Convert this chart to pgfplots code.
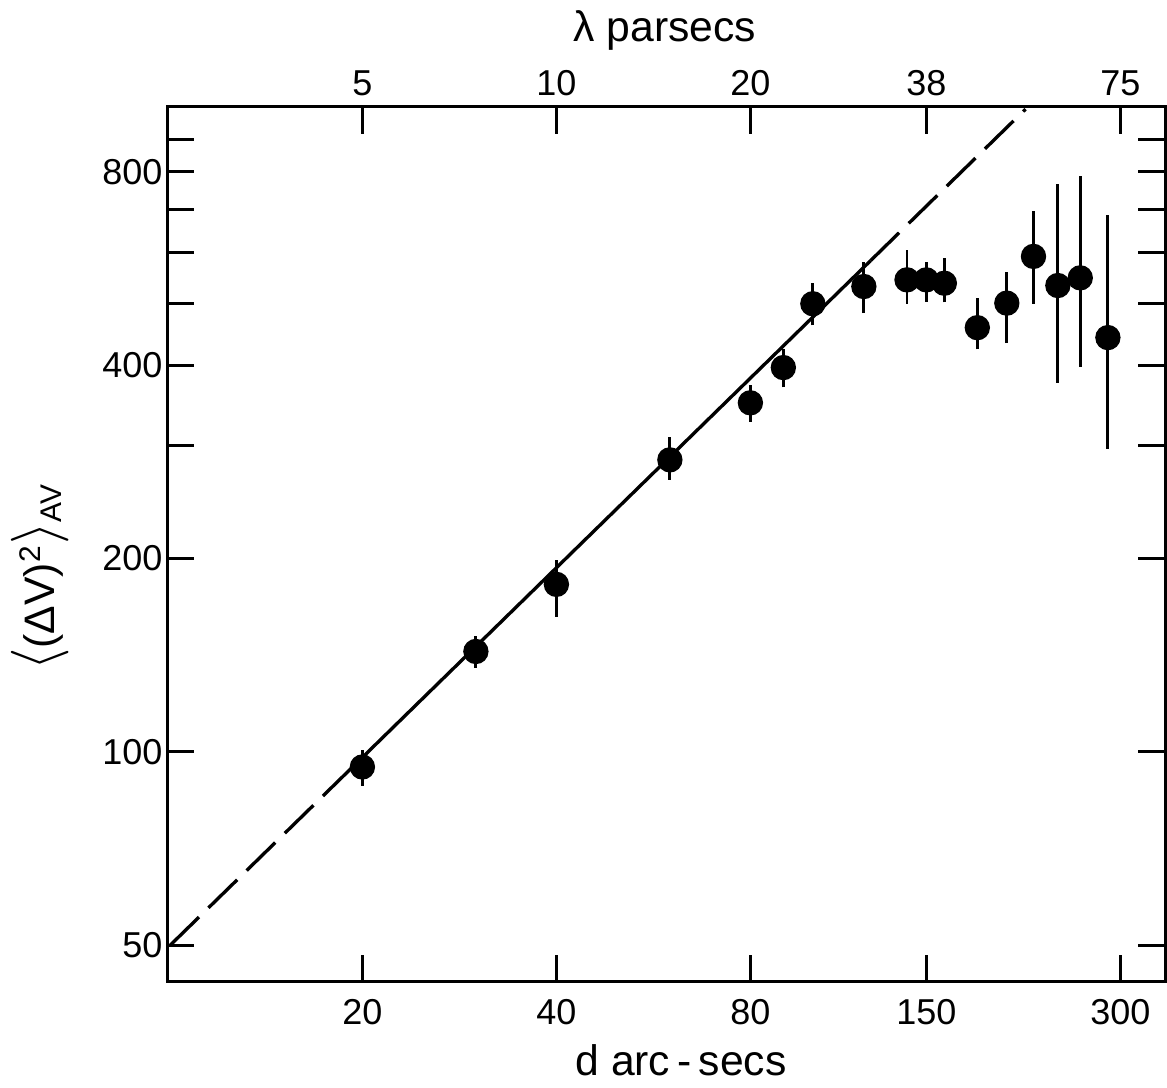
\documentclass[border=0pt]{standalone}
\usepackage{pgfplots}
\pgfplotsset{compat=1.18}
\usepackage{fontspec}
\setmainfont{Liberation Sans}
\newcommand{\bigbr}[1]{\smash{{\fontsize{18}{18}\selectfont$#1$}}}
\begin{document}
\begin{tikzpicture}
\begin{axis}[
  at={(0,0)}, anchor=south west,
  scale only axis, width=299.4pt, height=262.5pt,
  xmode=log, ymode=log,
  xmin=9.95, xmax=352, ymin=43.8, ymax=1010,
  /pgf/number format/assume math mode=true,
  ticklabel style={font=\fontsize{10.8}{12}\selectfont},
  label style={font=\fontsize{12.8}{15}\selectfont},
  minor tick style={draw=none},
  clip=false,
  axis line style={line width=0.9pt},
  xtick={20,40,80,150,300},
  xticklabels={20,40,80,150,300},
  ytick={50,100,200,300,400,500,600,700,800,900},
  yticklabels={50,100,200,,400,,,,800,},
  xtick pos=both, ytick pos=both,
  xticklabel pos=left, yticklabel pos=left,
  tick align=inside,
  major tick length=8pt,
  major tick style={line width=0.9pt, black},
  xticklabel style={anchor=center, yshift=-8.9pt},
  yticklabel style={anchor=east, inner sep=0pt, xshift=-1.2pt},
  xlabel={d arc\,-\,secs},
  xlabel style={at={(axis description cs:0.515,-0.09)}, anchor=center},
  ylabel={\bigbr{\langle}(ΔV)\textsuperscript{2}\bigbr{\rangle}\textsubscript{AV}},
  ylabel style={at={(axis description cs:-0.126,0.463)}, anchor=center, inner sep=0pt},
]
% fitted line: dashed / solid / dashed
\addplot[black, line width=1pt, dash pattern=on 12pt off 4pt] coordinates {(10.07,50) (20,98)};
\addplot[black, line width=1pt] coordinates {(20,98) (122.9,582)};
\addplot[black, line width=1pt, dash pattern=on 12pt off 4pt] coordinates {(122.9,582) (213.8,1002)};
% error bars
\addplot[black, line width=0.85pt] coordinates {(20,88.6) (20,100.5)};
\addplot[black, line width=0.85pt] coordinates {(30,135.3) (30,151.5)};
\addplot[black, line width=0.85pt] coordinates {(40,162.4) (40,198.8)};
\addplot[black, line width=0.85pt] coordinates {(60,265.2) (60,309)};
\addplot[black, line width=0.85pt] coordinates {(80,326.7) (80,372.5)};
\addplot[black, line width=0.85pt] coordinates {(90,369.4) (90,424.6)};
\addplot[black, line width=0.85pt] coordinates {(100,461.5) (100,536.8)};
\addplot[black, line width=0.85pt] coordinates {(120,482.3) (120,578.6)};
\addplot[black, line width=0.85pt] coordinates {(140,498.7) (140,604.7)};
\addplot[black, line width=0.85pt] coordinates {(150,502.7) (150,580)};
\addplot[black, line width=0.85pt] coordinates {(160,501) (160,587)};
\addplot[black, line width=0.85pt] coordinates {(180,423.5) (180,509.4)};
\addplot[black, line width=0.85pt] coordinates {(200,433.2) (200,559.6)};
\addplot[black, line width=0.85pt] coordinates {(220,498.7) (220,696)};
\addplot[black, line width=0.85pt] coordinates {(240,375.5) (240,765.6)};
\addplot[black, line width=0.85pt] coordinates {(260,397.6) (260,788.8)};
\addplot[black, line width=0.85pt] coordinates {(287,296.3) (287,686)};
% data points
\addplot[only marks, mark=*, mark size=3.6pt, black, fill=black] coordinates {
(20,94.7) (30,143.3) (40,182.3) (60,284.9) (80,349.6) (90,396.7)
(100,498.7) (120,530.5) (140,543.3) (150,543.3) (160,536.8)
(180,457.7) (200,499.8) (220,591) (240,532.4) (260,547.2) (287,441.7)
};
\end{axis}
\begin{axis}[
  at={(0,0)}, anchor=south west,
  scale only axis, width=299.4pt, height=262.5pt,
  xmode=log, ymode=log,
  xmin=9.95, xmax=352, ymin=43.8, ymax=1010,
  ticklabel style={font=\fontsize{10.8}{12}\selectfont},
  label style={font=\fontsize{12.8}{15}\selectfont},
  axis x line*=top,
  axis y line=none,
  x axis line style={draw=none},
  xtick style={draw=none},
  xtick={20,40,80,150,300},
  xticklabels={5,10,20,38,75},
  xticklabel style={anchor=center, yshift=7.2pt},
  xlabel={λ parsecs},
  xlabel style={at={(axis description cs:0.499,1.087)}, anchor=center},
]
\end{axis}
\pgfresetboundingbox
\path (-50.1pt,-31.5pt) rectangle (300pt,294.6pt);
\end{tikzpicture}
\end{document}
